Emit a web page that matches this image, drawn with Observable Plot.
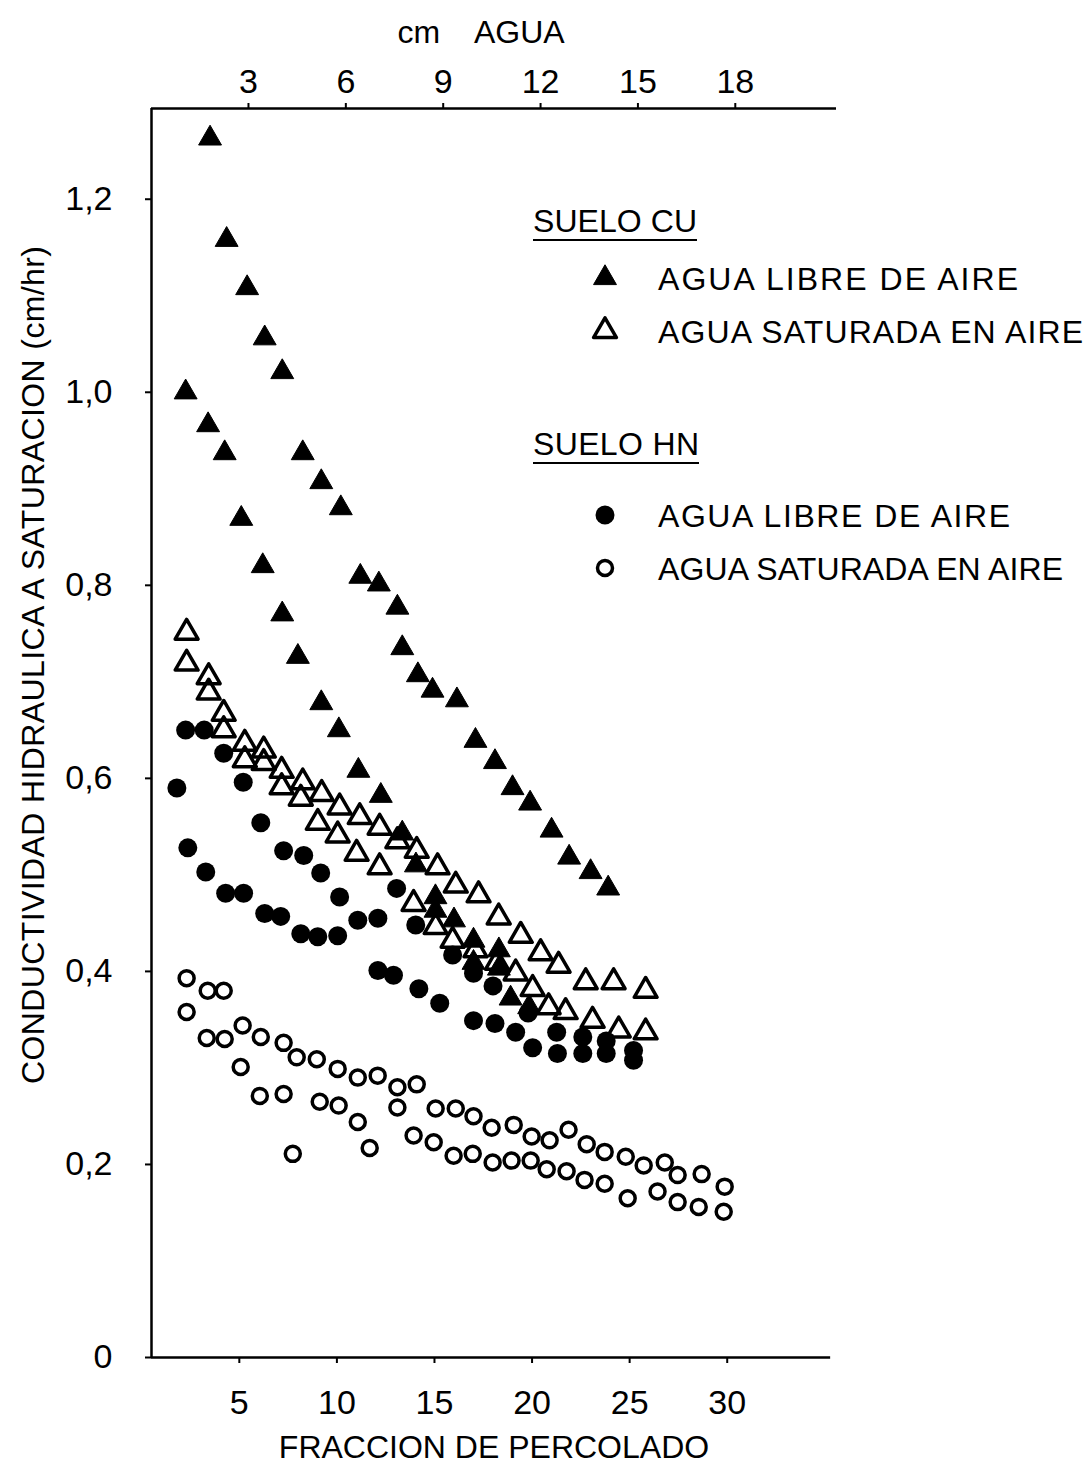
<!DOCTYPE html>
<html>
<head>
<meta charset="utf-8">
<script src="https://cdn.jsdelivr.net/npm/d3@7"></script>
<script src="https://cdn.jsdelivr.net/npm/@observablehq/plot@0.6"></script>
<style>
  html, body { margin: 0; padding: 0; background: #fff; }
  #chart { position: relative; width: 1087px; height: 1470px; }
</style>
</head>
<body>
<div id="chart"></div>
<script>
// ---- Data ----
// SUELO CU, agua libre de aire (filled triangles)
const cuLibreX = [3.5,4.35,5.4,6.3,7.2,8.25,9.2,10.2,11.2,12.15,13.1,13.35,14.15,14.9,16.15,17.1,18.1,19.0,19.9,21.0,21.9,23.0,23.9,
                  2.25,3.4,4.25,5.1,6.2,7.2,8.0,9.2,10.1,11.1,12.25,13.35,14.05,15.05,15.05,16.0,17.0,17.0,18.3,18.3,18.9,19.85];
const cuLibreY = [1.263,1.158,1.108,1.056,1.021,0.937,0.907,0.880,0.809,0.801,0.777,0.735,0.707,0.691,0.681,0.639,0.617,0.590,0.574,0.546,0.518,0.503,0.486,
                  1.000,0.966,0.937,0.869,0.820,0.770,0.726,0.678,0.650,0.608,0.582,0.543,0.510,0.477,0.463,0.453,0.432,0.409,0.422,0.403,0.372,0.363];
// SUELO CU, agua saturada en aire (open triangles)
const cuSatX = [2.3,3.43,4.2,5.28,6.25,7.17,8.25,9.22,10.14,11.17,12.19,13.1,14.09,15.16,16.09,17.26,18.29,19.42,20.44,21.36,22.75,24.18,25.82,
                2.3,3.43,4.2,5.28,6.25,7.17,8.15,9.02,10.04,11.01,12.19,13.93,15.06,15.93,17.1,18.2,19.16,20.03,20.85,21.72,23.1,24.44,25.82];
const cuSatY = [0.751,0.705,0.667,0.636,0.629,0.608,0.596,0.584,0.570,0.560,0.549,0.535,0.525,0.508,0.489,0.479,0.456,0.437,0.419,0.406,0.389,0.389,0.380,
                0.719,0.689,0.650,0.619,0.616,0.591,0.579,0.554,0.541,0.522,0.508,0.470,0.446,0.432,0.422,0.409,0.398,0.382,0.363,0.358,0.349,0.339,0.337];
// SUELO HN, agua libre de aire (filled circles)
const hnLibreX = [1.8,2.25,3.2,4.2,5.2,6.1,7.27,8.3,9.17,10.14,11.07,12.1,13.06,14.04,15.93,17.0,18.0,19.8,
                  2.36,3.28,4.3,5.22,6.3,7.12,8.15,9.02,10.04,12.1,12.9,14.2,15.27,17.0,18.1,19.16,20.03,21.26,21.3,22.6,22.6,23.8,23.8,25.2,25.2];
const hnLibreY = [0.590,0.650,0.650,0.626,0.596,0.554,0.525,0.520,0.502,0.477,0.453,0.455,0.486,0.448,0.417,0.398,0.385,0.357,
                  0.528,0.503,0.481,0.481,0.460,0.457,0.439,0.436,0.437,0.401,0.396,0.382,0.367,0.349,0.346,0.337,0.321,0.337,0.315,0.332,0.315,0.328,0.315,0.318,0.308];
// SUELO HN, agua saturada en aire (open circles)
const hnSatX = [2.3,3.38,4.2,2.3,3.33,4.25,5.17,6.1,7.27,5.07,7.94,8.97,10.04,6.05,7.27,11.07,12.09,13.1,14.09,9.12,10.09,13.1,11.07,7.74,11.68,
                15.06,16.09,17.0,17.93,19.06,19.98,20.9,21.87,22.8,23.72,24.8,25.72,26.8,27.46,28.69,29.87,
                13.93,14.96,15.98,16.96,17.98,18.95,19.93,20.75,21.77,22.69,23.72,24.9,26.43,27.46,28.54,29.82];
const hnSatY = [0.393,0.380,0.380,0.358,0.331,0.330,0.344,0.332,0.326,0.301,0.311,0.309,0.299,0.271,0.273,0.290,0.292,0.280,0.283,0.265,0.261,0.259,0.244,0.211,0.217,
                0.258,0.258,0.250,0.238,0.241,0.229,0.225,0.236,0.221,0.213,0.208,0.199,0.202,0.189,0.190,0.177,
                0.230,0.223,0.209,0.211,0.202,0.204,0.204,0.195,0.193,0.184,0.180,0.165,0.172,0.161,0.156,0.151];

// Axis ticks
const xTicks = [5, 10, 15, 20, 25, 30];
const yTicks = [0, 0.2, 0.4, 0.6, 0.8, 1.0, 1.2];
const cmTicks = [3, 6, 9, 12, 15, 18];
// relation between cm of water (top axis) and percolate fraction (bottom axis)
const CM_OFFSET = 0.48, FRAC_PER_CM = 1.663;
const cmToFrac = c => CM_OFFSET + FRAC_PER_CM * c;

// Text
const xLabel = "FRACCION DE PERCOLADO";
const yLabel = "CONDUCTIVIDAD HIDRAULICA A SATURACION (cm/hr)";
const topLabel = "cm    AGUA";
const legendGroups = [
  {title: "SUELO CU", items: [
    {symbol: "triangle", filled: true, label: "AGUA LIBRE DE AIRE"},
    {symbol: "triangle", filled: false, label: "AGUA SATURADA EN AIRE"}]},
  {title: "SUELO HN", items: [
    {symbol: "circle", filled: true, label: "AGUA LIBRE DE AIRE"},
    {symbol: "circle", filled: false, label: "AGUA SATURADA EN AIRE"}]}
];

const toRows = (xs, ys) => xs.map((x, i) => ({x, y: ys[i]}));
const cuLibre = toRows(cuLibreX, cuLibreY);
const cuSat = toRows(cuSatX, cuSatY);
const hnLibre = toRows(hnLibreX, hnLibreY);
const hnSat = toRows(hnSatX, hnSatY);

const X0 = 0.5, X1 = 35.6, YMAX = 1.294;
const FONT = "'Liberation Sans', Arial, sans-serif";
const NARROW = "'Liberation Sans Narrow', 'Liberation Sans', Arial, sans-serif";
const fmtY = d => d === 0 ? "0" : d.toFixed(1).replace(".", ",");

const TRI_R = 8.5, CIRC_R = 9.5, OCIRC_R = 7.5;

const plot = Plot.plot({
  width: 1087,
  height: 1470,
  marginTop: 108,
  marginBottom: 113,
  marginLeft: 151,
  marginRight: 251,
  style: {fontFamily: FONT, fontSize: "33px", color: "black", background: "white", overflow: "visible"},
  x: {domain: [X0, X1], axis: null},
  y: {domain: [0, YMAX], axis: null},
  marks: [
    // axis lines
    Plot.ruleX([X0], {y1: 0, y2: YMAX, stroke: "black", strokeWidth: 2.5}),
    Plot.ruleY([0], {x1: X0, x2: 35.3, stroke: "black", strokeWidth: 2.5}),
    Plot.ruleY([YMAX], {x1: X0, x2: X1, stroke: "black", strokeWidth: 2.5}),
    // axes
    Plot.axisX(xTicks, {anchor: "bottom", tickSize: 6, tickPadding: 26, fontFamily: NARROW, fontSize: 34, strokeWidth: 2, label: null}),
    Plot.axisX(cmTicks.map(cmToFrac), {anchor: "top", tickSize: 6, tickPadding: 10, fontFamily: NARROW, fontSize: 34, strokeWidth: 2,
      tickFormat: d => String(Math.round((d - CM_OFFSET) / FRAC_PER_CM)), label: null}),
    Plot.axisY(yTicks, {anchor: "left", tickSize: 6, tickPadding: 33, fontFamily: NARROW, fontSize: 34, strokeWidth: 2, tickFormat: fmtY, label: null}),
    // axis titles
    Plot.text([xLabel], {frameAnchor: "bottom", dy: 100, fontSize: 32, fill: "black"}),
    Plot.text([topLabel], {frameAnchor: "top", dy: -88, dx: -13, fontSize: 32, fill: "black"}),
    // data
    Plot.dot(hnSat, {x: "x", y: "y", r: OCIRC_R, symbol: "circle", fill: "none", stroke: "black", strokeWidth: 3.5}),
    Plot.dot(hnLibre, {x: "x", y: "y", r: CIRC_R, symbol: "circle", fill: "black", stroke: "none"}),
    Plot.dot(cuSat, {x: "x", y: "y", r: TRI_R, symbol: "triangle", fill: "none", stroke: "black", strokeWidth: 3.5, strokeLinejoin: "round"}),
    Plot.dot(cuLibre, {x: "x", y: "y", r: TRI_R, symbol: "triangle", fill: "black", stroke: "black", strokeWidth: 1, strokeLinejoin: "round"})
  ]
});

document.getElementById("chart").appendChild(plot);

const svg = d3.select(plot);

// ---- Vertical axis title ----
svg.append("text")
  .attr("transform", "translate(32,665) rotate(-90)")
  .attr("text-anchor", "middle")
  .attr("dy", "0.36em")
  .attr("font-family", FONT)
  .attr("font-size", 32)
  .attr("textLength", 838)
  .attr("lengthAdjust", "spacing")
  .attr("fill", "black")
  .text(yLabel);

// ---- Legend (drawn inside the plot area, upper right) ----
const lg = svg.append("g").attr("font-family", FONT).attr("font-size", 32).attr("fill", "black").attr("text-anchor", "start");
const groupTop = [232, 455];
const rowDy = [46, 99];
const titleLen = [164, 166];
const itemLen = [[360, 425], [352, 405]];
legendGroups.forEach((g, gi) => {
  const ty = groupTop[gi];
  lg.append("text").attr("x", 533).attr("y", ty)
    .attr("textLength", titleLen[gi]).attr("lengthAdjust", "spacing").text(g.title);
  lg.append("line").attr("x1", 533).attr("x2", 533 + titleLen[gi]).attr("y1", ty + 8).attr("y2", ty + 8)
    .attr("stroke", "black").attr("stroke-width", 2);
  g.items.forEach((it, ii) => {
    const cy = ty + rowDy[ii] + (gi === 1 ? 14 : 0);
    const isTri = it.symbol === "triangle";
    const r = isTri ? TRI_R : (it.filled ? CIRC_R : OCIRC_R);
    const sym = d3.symbol(isTri ? d3.symbolTriangle : d3.symbolCircle, Math.PI * r * r)();
    lg.append("path").attr("d", sym).attr("transform", `translate(605,${cy})`)
      .attr("fill", it.filled ? "black" : "none")
      .attr("stroke", it.filled ? (isTri ? "black" : "none") : "black")
      .attr("stroke-width", it.filled ? 1 : 3.5)
      .attr("stroke-linejoin", "round");
    lg.append("text").attr("x", 658).attr("y", cy).attr("dy", "0.36em")
      .attr("textLength", itemLen[gi][ii]).attr("lengthAdjust", "spacing").text(it.label);
  });
});
</script>
</body>
</html>
